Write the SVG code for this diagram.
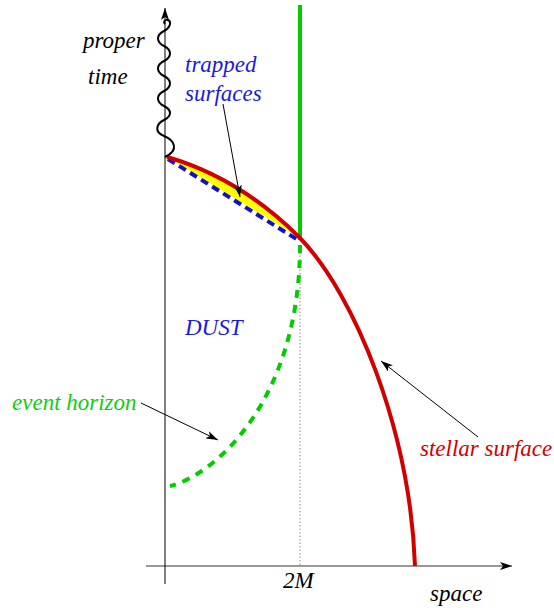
<svg xmlns="http://www.w3.org/2000/svg" width="554" height="608" viewBox="0 0 554 608">
<style>
text{font-family:"Liberation Serif","Times New Roman",serif;font-style:italic;font-size:23px}
.ar{stroke:#000;stroke-width:1;fill:none}
</style>
<defs>
<marker id="ah" viewBox="0 0 12 8" refX="12" refY="4" markerWidth="12" markerHeight="8" markerUnits="userSpaceOnUse" orient="auto"><path d="M0,0 L12,4 L0,8 L3,4 Z" fill="#000"/></marker>
</defs>
<rect width="554" height="608" fill="#fff"/>
<g id="axes">
<line x1="300" y1="245" x2="300" y2="566" stroke="#888" stroke-width="1" stroke-dasharray="1.5,2"/>
<line x1="146" y1="566" x2="512" y2="566" stroke="#777" stroke-width="1.5" marker-end="url(#ah)"/>
<line x1="165" y1="584" x2="165" y2="8" stroke="#000" stroke-width="1" marker-end="url(#ah)"/>
</g>
<g id="trapped-region">
<path d="M167,157 Q240,178 300,238 L167,157 Z" fill="#ffff00"/>
<path d="M168,159 L298,240" fill="none" stroke="#1010d0" stroke-width="4" stroke-dasharray="8,5"/>
</g>
<g id="horizon">
<line x1="300" y1="5" x2="300" y2="240" stroke="#00cc00" stroke-width="4"/>
<path d="M300,245 C300,400 215,475 170,486" fill="none" stroke="#00cc00" stroke-width="4" stroke-dasharray="8,7"/>
</g>
<g id="stellar-surface">
<path d="M167,157 Q240,178 300,238 C355,295 410,430 415,566" fill="none" stroke="#d00000" stroke-width="4"/>
</g>
<g id="proper-time-wave">
<path d="M165,157 C180,150 174,140 164,136 C154,132 156,124 164,120 C172,116 172,110 164,106 C156,102 156,95 164,91 C172,87 172,80 164,76 C156,72 156,65 164,61 C172,57 172,50 164,46 C156,42 156,35 164,31 C170,28 172,22 168,20 C165,19 163,22 165,24" fill="none" stroke="#000" stroke-width="2"/>
</g>
<g id="connectors">
<line class="ar" x1="223" y1="104" x2="240" y2="197" marker-end="url(#ah)"/>
<line class="ar" x1="141" y1="403" x2="218" y2="440" marker-end="url(#ah)"/>
<line class="ar" x1="478" y1="437" x2="381" y2="361" marker-end="url(#ah)"/>
</g>
<g id="labels">
<text x="83" y="48" fill="#000">proper</text>
<text x="88" y="84" fill="#000">time</text>
<text x="185" y="72" fill="#1a1adc">trapped</text>
<text x="185" y="101" fill="#1a1adc">surfaces</text>
<text x="185" y="335" fill="#1a1adc">DUST</text>
<text x="12" y="410" fill="#10cc10">event horizon</text>
<text x="420" y="456" fill="#d00000">stellar surface</text>
<text x="283" y="588" fill="#000">2M</text>
<text x="430" y="601" fill="#000">space</text>
</g>
</svg>
